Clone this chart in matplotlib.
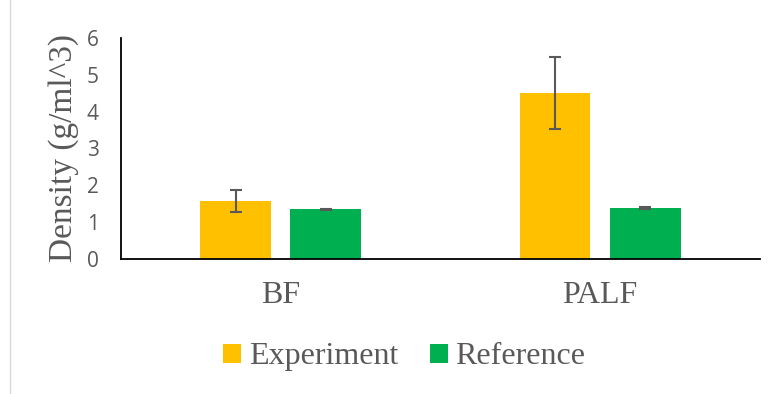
import numpy as np
import matplotlib.pyplot as plt
from matplotlib.lines import Line2D

categories = ['BF', 'PALF']
experiment = [1.57, 4.50]
experiment_err = [0.29, 0.97]
reference = [1.34, 1.38]
reference_err = [0.02, 0.02]

fig = plt.figure(figsize=(7.76, 3.94), dpi=100)
ax = fig.add_axes([0.156, 0.343, 0.823, 0.561])

x = np.arange(len(categories))
w = 0.222
ax.bar(x - 0.141, experiment, w, color='#FFC000', label='Experiment',
       yerr=experiment_err, error_kw=dict(ecolor='#595959', elinewidth=1.5, capsize=4.5, capthick=1.5))
ax.bar(x + 0.141, reference, w, color='#00B050', label='Reference',
       yerr=reference_err, error_kw=dict(ecolor='#595959', elinewidth=1.5, capsize=4.5, capthick=1.5))

ax.set_xlim(-0.5, 1.5)
ax.set_ylim(0, 6)
ax.set_yticks(range(7))
ax.set_xticks(x)
ax.set_xticklabels(categories, family='Liberation Serif', fontsize=23, color='#595959')
for t in ax.get_yticklabels():
    t.set_family('Open Sans')
    t.set_fontsize(15)
    t.set_color('#595959')
ax.tick_params(length=0)
ax.tick_params(axis='x', pad=16)
ax.tick_params(axis='y', pad=16)

for s in ['top', 'right']:
    ax.spines[s].set_visible(False)
ax.spines['left'].set_color('black')
ax.spines['bottom'].set_color('black')
ax.spines['left'].set_linewidth(1.3)
ax.spines['bottom'].set_linewidth(1.3)

ax.set_ylabel('Density (g/ml^3)', family='Liberation Serif', fontsize=24, color='#595959', labelpad=6)

fig.legend(loc='center', bbox_to_anchor=(0.521, 0.094), ncol=2, frameon=False,
           prop={'family': 'Liberation Serif', 'size': 23}, labelcolor='#595959',
           handlelength=0.55, handleheight=0.55, handletextpad=0.25, columnspacing=1.0)

fig.add_artist(Line2D([10 / 776, 10 / 776], [0, 1], color='#d9d9d9', lw=1))

fig.savefig('out.png', dpi=100)
